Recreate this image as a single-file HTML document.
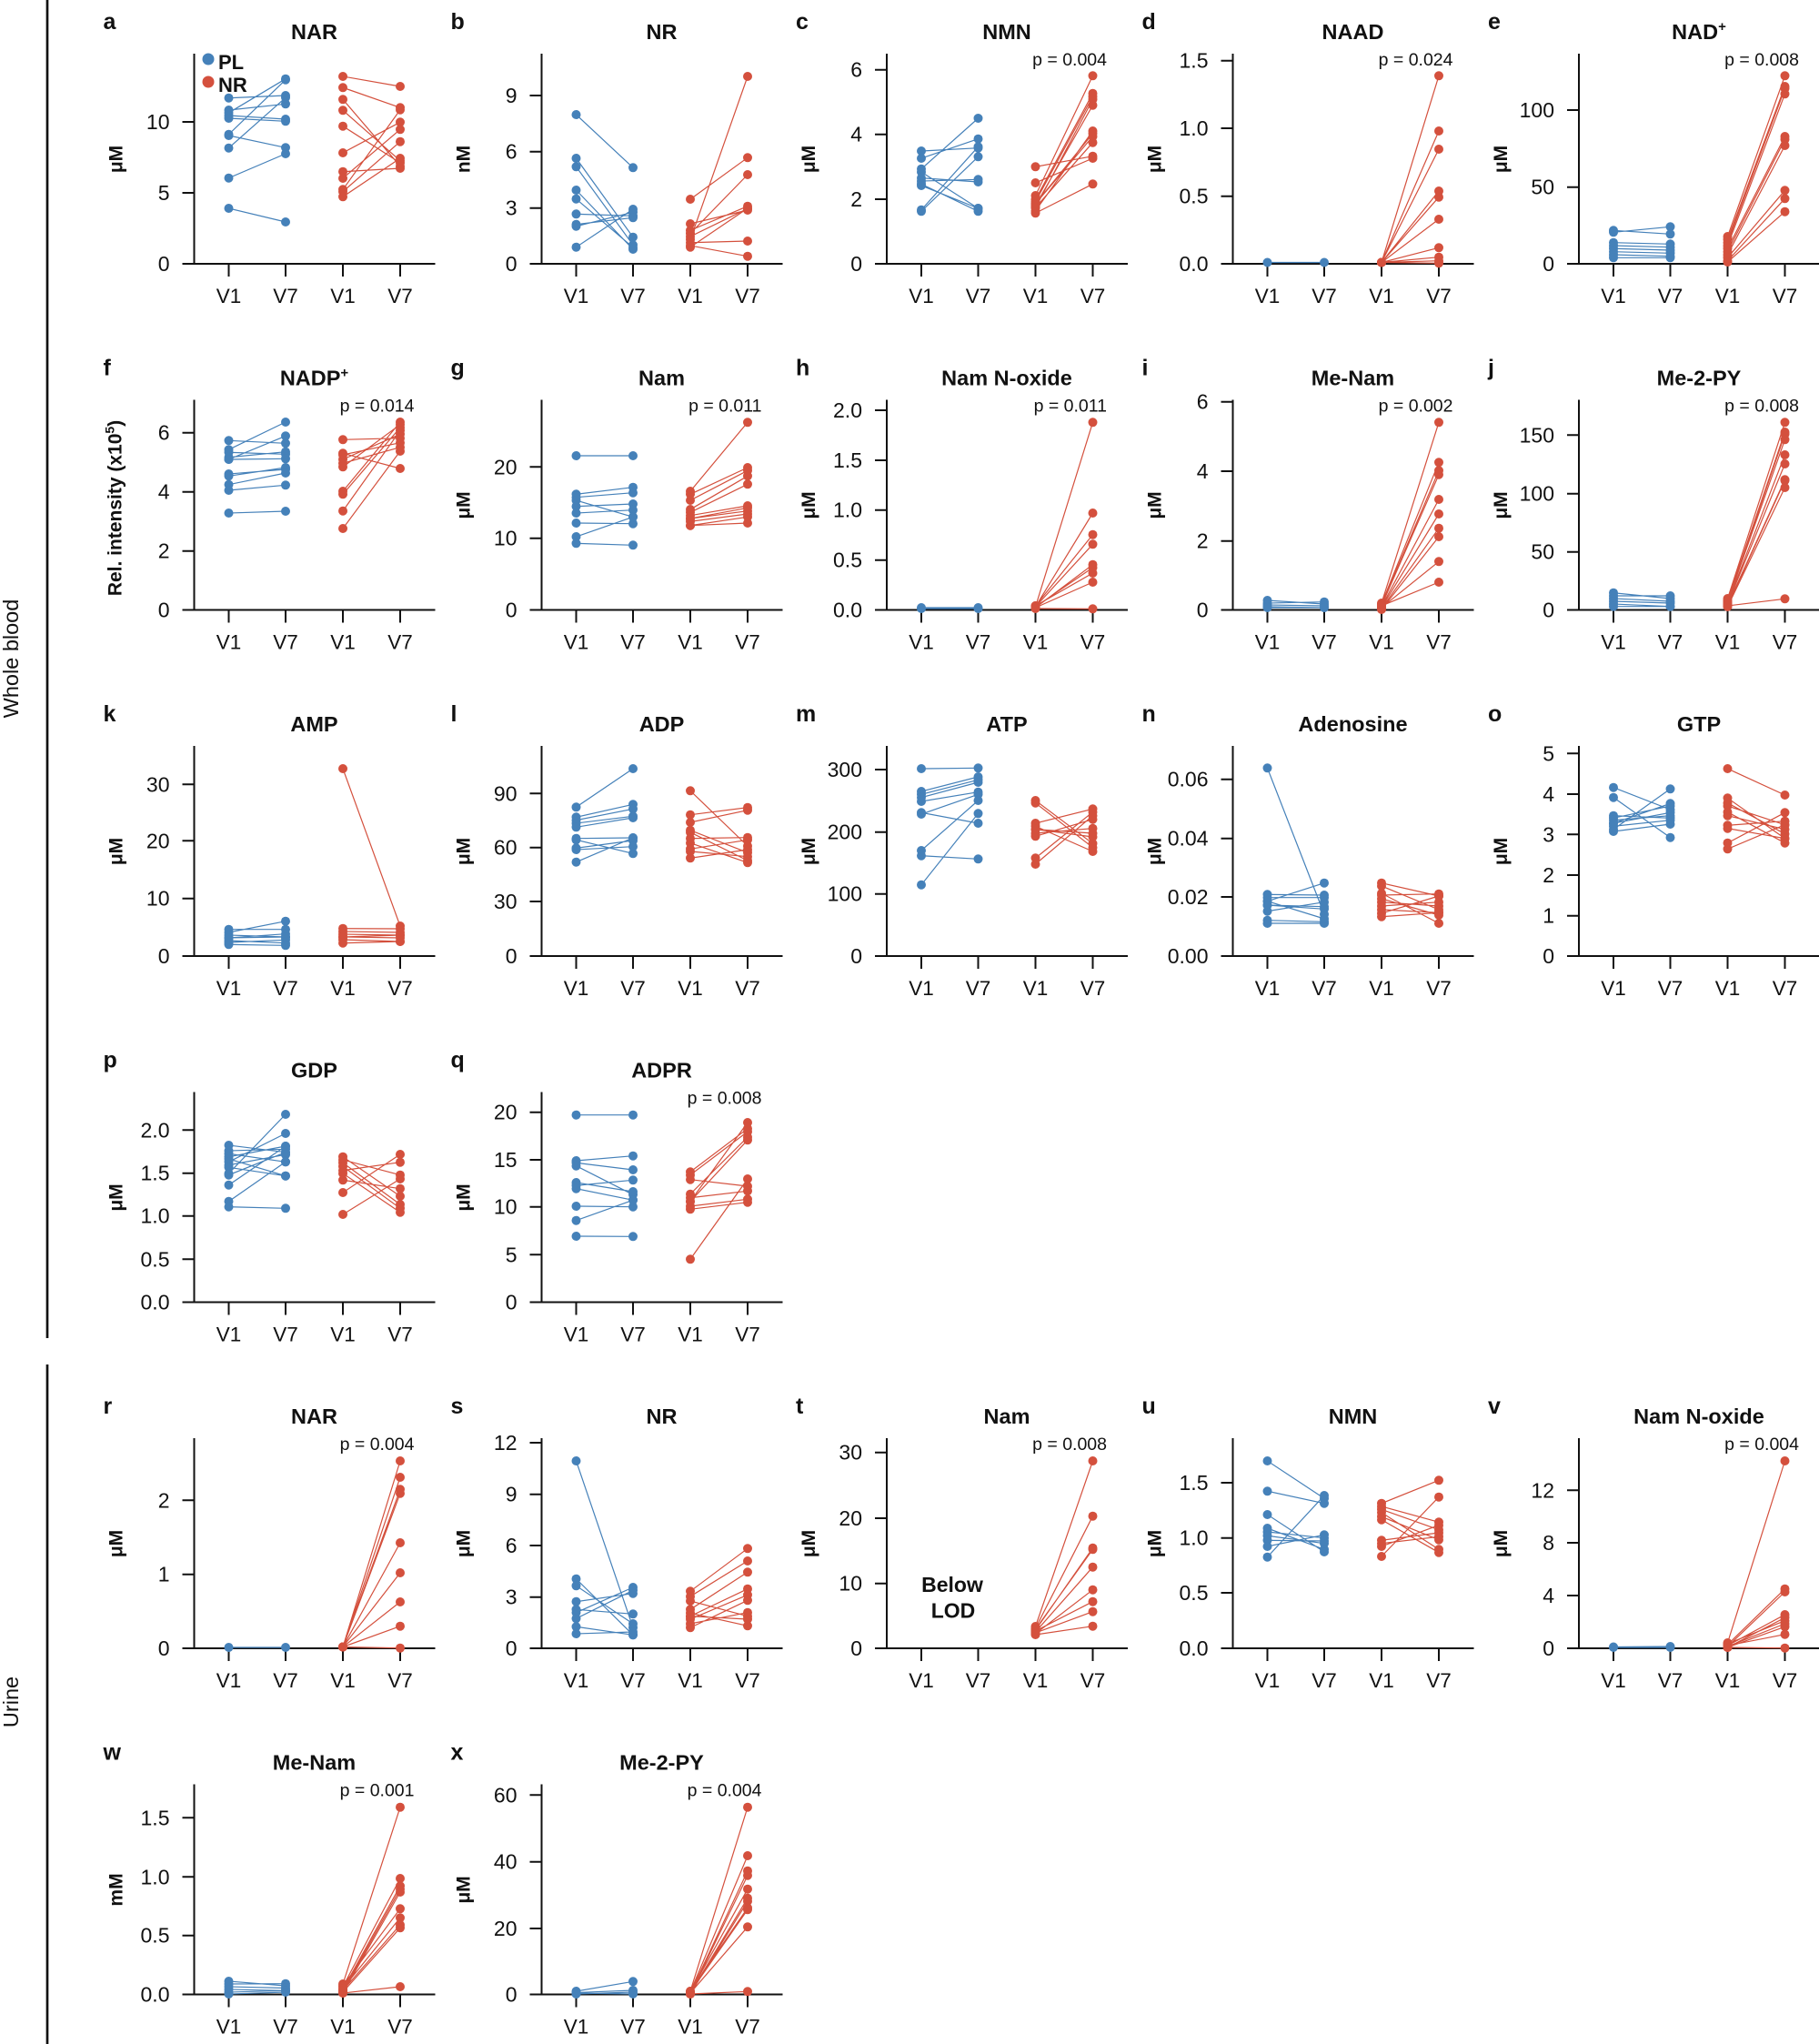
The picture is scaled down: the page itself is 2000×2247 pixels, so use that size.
<!DOCTYPE html>
<html><head><meta charset="utf-8"><style>
html,body{margin:0;padding:0;background:#fff}
svg{display:block}
svg text{font-family:"Liberation Sans",Arial,sans-serif;fill:#111}
.tl{font-size:23px;text-anchor:end}
.xl{font-size:22.5px;text-anchor:middle}
.ti{font-size:23.5px;font-weight:bold;text-anchor:middle}
.lt{font-size:25px;font-weight:bold}
.yl{font-size:21px;font-weight:bold;text-anchor:middle}
.pv{font-size:19.5px;text-anchor:end}
.sd{font-size:23.5px;text-anchor:middle}
.ax{fill:none;stroke:#111;stroke-width:2}
.b{fill:none;stroke:#4581B9;stroke-width:1.2;marker-start:url(#mb);marker-mid:url(#mb);marker-end:url(#mb)}
.r{fill:none;stroke:#D4503D;stroke-width:1.2;marker-start:url(#mr);marker-mid:url(#mr);marker-end:url(#mr)}
</style></head><body>
<svg width="2000" height="2247" viewBox="0 0 2000 2247" xmlns="http://www.w3.org/2000/svg">
<defs>
<marker id="mb" viewBox="0 0 10 10" refX="5" refY="5" markerWidth="10" markerHeight="10" markerUnits="userSpaceOnUse" overflow="visible"><circle cx="5" cy="5" r="5" fill="#4581B9"/></marker>
<marker id="mr" viewBox="0 0 10 10" refX="5" refY="5" markerWidth="10" markerHeight="10" markerUnits="userSpaceOnUse" overflow="visible"><circle cx="5" cy="5" r="5" fill="#D4503D"/></marker>
</defs>
<rect width="2000" height="2247" fill="#fff"/>

<!-- side separators -->
<path d="M52 0V1471M52 1500V2247" stroke="#111" stroke-width="2.7" fill="none"/>
<text class="sd" transform="translate(20 724) rotate(-90)">Whole blood</text>
<text class="sd" transform="translate(20 1871) rotate(-90)">Urine</text>

<!-- ===== a ===== -->
<g transform="translate(213.5 290)">
<path class="ax" d="M-13 0H265M0 0V-231M38 0v14M100.5 0v14M163.5 0v14M226.5 0v14M-13 -78H0M-13 -156H0"/>
<text class="tl" x="-27" y="8">0</text><text class="tl" x="-27" y="-70">5</text><text class="tl" x="-27" y="-148">10</text>
<text class="xl" x="38" y="43">V1</text><text class="xl" x="100.5" y="43">V7</text><text class="xl" x="163.5" y="43">V1</text><text class="xl" x="226.5" y="43">V7</text>
<text class="ti" x="132" y="-247">NAR</text>
<text class="lt" x="-100" y="-258">a</text>
<text class="yl" transform="translate(-79 -115) rotate(-90)">μM</text>
</g>
<circle cx="229" cy="65" r="6.5" fill="#4581B9"/><circle cx="229" cy="90" r="6.5" fill="#D4503D"/>
<text x="240" y="76" style="font-size:22px;font-weight:bold">PL</text>
<text x="240" y="101" style="font-size:22px;font-weight:bold">NR</text>
<path class="b" d="M251.5 107.7L314 105M251.5 121L314 114.3M251.5 124L314 86.7M251.5 127L314 131M251.5 130L314 133.3M251.5 147.7L314 87.7M251.5 149L314 162.3M251.5 162.7L314 107.3M251.5 195.7L314 169M251.5 229L314 244"/>
<path class="r" d="M377 84L440 95M377 96.3L440 118.3M377 109.3L440 182.7M377 121.3L440 176.7M377 138.7L440 179M377 168L440 134.3M377 188.7L440 185M377 196L440 142.3M377 208.3L440 120.7M377 210.7L440 155.7M377 216.3L440 174"/>

<!-- ===== b ===== -->
<g transform="translate(595.5 290)">
<path class="ax" d="M-13 0H265M0 0V-231M38 0v14M100.5 0v14M163.5 0v14M226.5 0v14M-13 -61.3H0M-13 -123.3H0M-13 -185H0"/>
<text class="tl" x="-27" y="8">0</text><text class="tl" x="-27" y="-53.3">3</text><text class="tl" x="-27" y="-115.3">6</text><text class="tl" x="-27" y="-177">9</text>
<text class="xl" x="38" y="43">V1</text><text class="xl" x="100.5" y="43">V7</text><text class="xl" x="163.5" y="43">V1</text><text class="xl" x="226.5" y="43">V7</text>
<text class="ti" x="132" y="-247">NR</text>
<text class="lt" x="-100" y="-258">b</text>
<text class="yl" transform="translate(-79 -115) rotate(-90)">nM</text>
</g>
<path class="b" d="M633.5 126L696 184.3M633.5 174L696 260.7M633.5 183.3L696 269.3M633.5 209L696 274M633.5 218.7L696 272M633.5 235.3L696 237.3M633.5 246.7L696 239.3M633.5 248.7L696 233.3M633.5 271.7L696 230"/>
<path class="r" d="M759 219L822 173.3M759 246L822 231M759 253.3L822 226.7M759 256.7L822 192M759 260L822 229.3M759 263.3L822 84M759 266.7L822 265M759 270L822 281.7M759 271.7L822 229"/>

<!-- ===== c ===== -->
<g transform="translate(975 290)">
<path class="ax" d="M-13 0H265M0 0V-231M38 0v14M100.5 0v14M163.5 0v14M226.5 0v14M-13 -71H0M-13 -142.3H0M-13 -213.3H0"/>
<text class="tl" x="-27" y="8">0</text><text class="tl" x="-27" y="-63">2</text><text class="tl" x="-27" y="-134.3">4</text><text class="tl" x="-27" y="-205.3">6</text>
<text class="xl" x="38" y="43">V1</text><text class="xl" x="100.5" y="43">V7</text><text class="xl" x="163.5" y="43">V1</text><text class="xl" x="226.5" y="43">V7</text>
<text class="ti" x="132" y="-247">NMN</text>
<text class="lt" x="-100" y="-258">c</text>
<text class="yl" transform="translate(-79 -115) rotate(-90)">μM</text>
<text class="pv" x="242" y="-218">p = 0.004</text>
</g>
<path class="b" d="M1013 166L1075.5 162.7M1013 174L1075.5 152.7M1013 185.7L1075.5 130M1013 189L1075.5 229M1013 195.7L1075.5 200M1013 199L1075.5 197.3M1013 202.3L1075.5 232.3M1013 204L1075.5 229M1013 230.7L1075.5 161.3M1013 232.3L1075.5 172.3"/>
<path class="r" d="M1138.5 183.3L1201.5 171.7M1138.5 201L1201.5 174M1138.5 215L1201.5 83.3M1138.5 219.3L1201.5 102.7M1138.5 221.7L1201.5 106M1138.5 224L1201.5 146.7M1138.5 226L1201.5 115.7M1138.5 228.3L1201.5 156.7M1138.5 231.7L1201.5 144M1138.5 234.3L1201.5 202.3M1138.5 228.3L1201.5 109.3M1138.5 224L1201.5 150"/>

<!-- ===== d ===== -->
<g transform="translate(1355.5 290)">
<path class="ax" d="M-13 0H265M0 0V-231M38 0v14M100.5 0v14M163.5 0v14M226.5 0v14M-13 -74.3H0M-13 -149H0M-13 -223.3H0"/>
<text class="tl" x="-27" y="8">0.0</text><text class="tl" x="-27" y="-66.3">0.5</text><text class="tl" x="-27" y="-141">1.0</text><text class="tl" x="-27" y="-215.3">1.5</text>
<text class="xl" x="38" y="43">V1</text><text class="xl" x="100.5" y="43">V7</text><text class="xl" x="163.5" y="43">V1</text><text class="xl" x="226.5" y="43">V7</text>
<text class="ti" x="132" y="-247">NAAD</text>
<text class="lt" x="-100" y="-258">d</text>
<text class="yl" transform="translate(-79 -115) rotate(-90)">μM</text>
<text class="pv" x="242" y="-218">p = 0.024</text>
</g>
<path class="b" d="M1393.5 288.5L1456 288.5"/>
<path class="r" d="M1519 288.5L1582 83.3M1519 288.5L1582 144M1519 288.5L1582 164M1519 288.5L1582 210M1519 288.5L1582 216.7M1519 288.5L1582 241M1519 288.5L1582 272.3M1519 288.5L1582 282.7M1519 288.5L1582 286.7M1519 288.5L1582 289.3"/>

<!-- ===== e ===== -->
<g transform="translate(1736 290)">
<path class="ax" d="M-13 0H265M0 0V-231M38 0v14M100.5 0v14M163.5 0v14M226.5 0v14M-13 -84.3H0M-13 -169H0"/>
<text class="tl" x="-27" y="8">0</text><text class="tl" x="-27" y="-76.3">50</text><text class="tl" x="-27" y="-161">100</text>
<text class="xl" x="38" y="43">V1</text><text class="xl" x="100.5" y="43">V7</text><text class="xl" x="163.5" y="43">V1</text><text class="xl" x="226.5" y="43">V7</text>
<text class="ti" x="132" y="-247">NAD<tspan font-size="15" dy="-9">+</tspan></text>
<text class="lt" x="-100" y="-258">e</text>
<text class="yl" transform="translate(-79 -115) rotate(-90)">μM</text>
<text class="pv" x="242" y="-218">p = 0.008</text>
</g>
<path class="b" d="M1774 253.3L1836.5 257.3M1774 255.3L1836.5 249.3M1774 266.7L1836.5 268.3M1774 270L1836.5 271.7M1774 273.3L1836.5 275M1774 276.7L1836.5 278.3M1774 280L1836.5 281.7M1774 283.3L1836.5 283.3"/>
<path class="r" d="M1899.5 260L1962.5 83.3M1899.5 263.3L1962.5 95M1899.5 266.7L1962.5 97.3M1899.5 270L1962.5 103.3M1899.5 273.3L1962.5 150M1899.5 276.7L1962.5 153.3M1899.5 280L1962.5 160M1899.5 283.3L1962.5 209.3M1899.5 286.7L1962.5 218.3M1899.5 288L1962.5 232.7"/>

<!-- ===== f ===== -->
<g transform="translate(213.5 670.5)">
<path class="ax" d="M-13 0H265M0 0V-231M38 0v14M100.5 0v14M163.5 0v14M226.5 0v14M-13 -64.8H0M-13 -129.8H0M-13 -194.8H0"/>
<text class="tl" x="-27" y="8">0</text><text class="tl" x="-27" y="-56.8">2</text><text class="tl" x="-27" y="-121.8">4</text><text class="tl" x="-27" y="-186.8">6</text>
<text class="xl" x="38" y="43">V1</text><text class="xl" x="100.5" y="43">V7</text><text class="xl" x="163.5" y="43">V1</text><text class="xl" x="226.5" y="43">V7</text>
<text class="ti" x="132" y="-247">NADP<tspan font-size="15" dy="-9">+</tspan></text>
<text class="lt" x="-100" y="-258">f</text>
<text class="yl" transform="translate(-80 -112) rotate(-90)">Rel. intensity (x10<tspan font-size="14" dy="-8">5</tspan><tspan dy="8">)</tspan></text>
<text class="pv" x="242" y="-218">p = 0.014</text>
</g>
<path class="b" d="M251.5 484.3L314 487.3M251.5 494.3L314 464M251.5 497.3L314 499.3M251.5 502.7L314 496.7M251.5 505L314 479.3M251.5 521L314 516M251.5 523.3L314 514M251.5 532.7L314 520M251.5 539L314 533.3M251.5 564L314 562M251.5 505L314 504.3"/>
<path class="r" d="M377 483.3L440 481.7M377 498.3L440 515M377 500L440 486.7M377 505L440 477.3M377 509.3L440 491.7M377 513.3L440 466.7M377 540L440 464M377 543.3L440 470M377 561.7L440 473.3M377 581L440 496"/>

<!-- ===== g ===== -->
<g transform="translate(595.5 670.5)">
<path class="ax" d="M-13 0H265M0 0V-231M38 0v14M100.5 0v14M163.5 0v14M226.5 0v14M-13 -78.8H0M-13 -157.2H0"/>
<text class="tl" x="-27" y="8">0</text><text class="tl" x="-27" y="-70.8">10</text><text class="tl" x="-27" y="-149.2">20</text>
<text class="xl" x="38" y="43">V1</text><text class="xl" x="100.5" y="43">V7</text><text class="xl" x="163.5" y="43">V1</text><text class="xl" x="226.5" y="43">V7</text>
<text class="ti" x="132" y="-247">Nam</text>
<text class="lt" x="-100" y="-258">g</text>
<text class="yl" transform="translate(-79 -115) rotate(-90)">μM</text>
<text class="pv" x="242" y="-218">p = 0.011</text>
</g>
<path class="b" d="M633.5 501L696 501M633.5 543.3L696 535.7M633.5 546.7L696 541.7M633.5 550L696 568.3M633.5 556.7L696 554M633.5 564L696 560.7M633.5 575L696 575.7M633.5 590L696 568.3M633.5 597.3L696 599.3"/>
<path class="r" d="M759 540L822 464.3M759 543.3L822 514M759 550L822 517.3M759 560L822 523.3M759 563.3L822 532.3M759 566.7L822 556M759 570L822 558.3M759 573.3L822 565M759 577.7L822 568.3M759 570L822 561.7M759 577.7L822 575"/>

<!-- ===== h ===== -->
<g transform="translate(975 670.5)">
<path class="ax" d="M-13 0H265M0 0V-231M38 0v14M100.5 0v14M163.5 0v14M226.5 0v14M-13 -54.8H0M-13 -109.8H0M-13 -164.5H0M-13 -219.5H0"/>
<text class="tl" x="-27" y="8">0.0</text><text class="tl" x="-27" y="-46.8">0.5</text><text class="tl" x="-27" y="-101.8">1.0</text><text class="tl" x="-27" y="-156.5">1.5</text><text class="tl" x="-27" y="-211.5">2.0</text>
<text class="xl" x="38" y="43">V1</text><text class="xl" x="100.5" y="43">V7</text><text class="xl" x="163.5" y="43">V1</text><text class="xl" x="226.5" y="43">V7</text>
<text class="ti" x="132" y="-247">Nam N-oxide</text>
<text class="lt" x="-100" y="-258">h</text>
<text class="yl" transform="translate(-79 -115) rotate(-90)">μM</text>
<text class="pv" x="242" y="-218">p = 0.011</text>
</g>
<path class="b" d="M1013 669L1075.5 669M1013 668L1075.5 668"/>
<path class="r" d="M1138.5 667L1201.5 464.3M1138.5 667L1201.5 564M1138.5 666L1201.5 587.7M1138.5 667L1201.5 598.3M1138.5 668L1201.5 620.7M1138.5 667L1201.5 624M1138.5 666L1201.5 630M1138.5 668L1201.5 640M1138.5 669L1201.5 669.3"/>

<!-- ===== i ===== -->
<g transform="translate(1355.5 670.5)">
<path class="ax" d="M-13 0H265M0 0V-231M38 0v14M100.5 0v14M163.5 0v14M226.5 0v14M-13 -75.8H0M-13 -152.5H0M-13 -228.8H0"/>
<text class="tl" x="-27" y="8">0</text><text class="tl" x="-27" y="-67.8">2</text><text class="tl" x="-27" y="-144.5">4</text><text class="tl" x="-27" y="-220.8">6</text>
<text class="xl" x="38" y="43">V1</text><text class="xl" x="100.5" y="43">V7</text><text class="xl" x="163.5" y="43">V1</text><text class="xl" x="226.5" y="43">V7</text>
<text class="ti" x="132" y="-247">Me-Nam</text>
<text class="lt" x="-100" y="-258">i</text>
<text class="yl" transform="translate(-79 -115) rotate(-90)">μM</text>
<text class="pv" x="242" y="-218">p = 0.002</text>
</g>
<path class="b" d="M1393.5 660L1456 664M1393.5 663L1456 661.7M1393.5 665L1456 666M1393.5 667L1456 668M1393.5 668L1456 668"/>
<path class="r" d="M1519 663L1582 464.3M1519 664L1582 508.3M1519 665L1582 517.3M1519 666L1582 521.7M1519 667L1582 549M1519 668L1582 565M1519 669L1582 580.7M1519 670L1582 590M1519 668L1582 617.3M1519 666L1582 640"/>

<!-- ===== j ===== -->
<g transform="translate(1736 670.5)">
<path class="ax" d="M-13 0H265M0 0V-231M38 0v14M100.5 0v14M163.5 0v14M226.5 0v14M-13 -63.8H0M-13 -127.8H0M-13 -192.2H0"/>
<text class="tl" x="-27" y="8">0</text><text class="tl" x="-27" y="-55.8">50</text><text class="tl" x="-27" y="-119.8">100</text><text class="tl" x="-27" y="-184.2">150</text>
<text class="xl" x="38" y="43">V1</text><text class="xl" x="100.5" y="43">V7</text><text class="xl" x="163.5" y="43">V1</text><text class="xl" x="226.5" y="43">V7</text>
<text class="ti" x="132" y="-247">Me-2-PY</text>
<text class="lt" x="-100" y="-258">j</text>
<text class="yl" transform="translate(-79 -115) rotate(-90)">μM</text>
<text class="pv" x="242" y="-218">p = 0.008</text>
</g>
<path class="b" d="M1774 651.7L1836.5 658M1774 655L1836.5 655M1774 658L1836.5 661M1774 661L1836.5 663M1774 664L1836.5 666.7M1774 666.7L1836.5 666.7"/>
<path class="r" d="M1899.5 658L1962.5 464.3M1899.5 660L1962.5 475M1899.5 661L1962.5 477.3M1899.5 662L1962.5 483.3M1899.5 663L1962.5 500M1899.5 664L1962.5 510M1899.5 665L1962.5 527.3M1899.5 666L1962.5 528.3M1899.5 667L1962.5 536M1899.5 666L1962.5 658.3"/>

<!-- ===== k ===== -->
<g transform="translate(213.5 1051)">
<path class="ax" d="M-13 0H265M0 0V-231M38 0v14M100.5 0v14M163.5 0v14M226.5 0v14M-13 -63.3H0M-13 -126.7H0M-13 -188.7H0"/>
<text class="tl" x="-27" y="8">0</text><text class="tl" x="-27" y="-55.3">10</text><text class="tl" x="-27" y="-118.7">20</text><text class="tl" x="-27" y="-180.7">30</text>
<text class="xl" x="38" y="43">V1</text><text class="xl" x="100.5" y="43">V7</text><text class="xl" x="163.5" y="43">V1</text><text class="xl" x="226.5" y="43">V7</text>
<text class="ti" x="132" y="-247">AMP</text>
<text class="lt" x="-100" y="-258">k</text>
<text class="yl" transform="translate(-79 -115) rotate(-90)">μM</text>
</g>
<path class="b" d="M251.5 1021.7L314 1021.7M251.5 1025L314 1012.7M251.5 1028L314 1030M251.5 1031L314 1026.7M251.5 1034L314 1036.7M251.5 1036L314 1033.3M251.5 1038.3L314 1039.3M251.5 1031L314 1030"/>
<path class="r" d="M377 845L440 1018M377 1020.7L440 1021M377 1024L440 1025M377 1027L440 1028M377 1030L440 1031M377 1033L440 1035M377 1036.7L440 1035M377 1030L440 1028"/>

<!-- ===== l ===== -->
<g transform="translate(595.5 1051)">
<path class="ax" d="M-13 0H265M0 0V-231M38 0v14M100.5 0v14M163.5 0v14M226.5 0v14M-13 -60H0M-13 -119.3H0M-13 -178.7H0"/>
<text class="tl" x="-27" y="8">0</text><text class="tl" x="-27" y="-52">30</text><text class="tl" x="-27" y="-111.3">60</text><text class="tl" x="-27" y="-170.7">90</text>
<text class="xl" x="38" y="43">V1</text><text class="xl" x="100.5" y="43">V7</text><text class="xl" x="163.5" y="43">V1</text><text class="xl" x="226.5" y="43">V7</text>
<text class="ti" x="132" y="-247">ADP</text>
<text class="lt" x="-100" y="-258">l</text>
<text class="yl" transform="translate(-79 -115) rotate(-90)">μM</text>
</g>
<path class="b" d="M633.5 887.3L696 845M633.5 898.3L696 884.3M633.5 901.7L696 889.3M633.5 905L696 897.3M633.5 909.3L696 899M633.5 921.7L696 921M633.5 923.3L696 938.3M633.5 932.3L696 924M633.5 934L696 930.7M633.5 947.7L696 921"/>
<path class="r" d="M759 869.3L822 930M759 895.7L822 887.7M759 904L822 890.7M759 912.7L822 937.3M759 915L822 946M759 921.7L822 920.7M759 926.7L822 948.3M759 933.3L822 923.3M759 936L822 941.7M759 943.3L822 934"/>

<!-- ===== m ===== -->
<g transform="translate(975 1051)">
<path class="ax" d="M-13 0H265M0 0V-231M38 0v14M100.5 0v14M163.5 0v14M226.5 0v14M-13 -68.3H0M-13 -136.3H0M-13 -205H0"/>
<text class="tl" x="-27" y="8">0</text><text class="tl" x="-27" y="-60.3">100</text><text class="tl" x="-27" y="-128.3">200</text><text class="tl" x="-27" y="-197">300</text>
<text class="xl" x="38" y="43">V1</text><text class="xl" x="100.5" y="43">V7</text><text class="xl" x="163.5" y="43">V1</text><text class="xl" x="226.5" y="43">V7</text>
<text class="ti" x="132" y="-247">ATP</text>
<text class="lt" x="-100" y="-258">m</text>
<text class="yl" transform="translate(-79 -115) rotate(-90)">μM</text>
</g>
<path class="b" d="M1013 845L1075.5 844.3M1013 870L1075.5 854M1013 873.3L1075.5 857.3M1013 876.7L1075.5 860M1013 881L1075.5 870.7M1013 893.3L1075.5 905M1013 895L1075.5 873.3M1013 935L1075.5 880M1013 940.7L1075.5 944.3M1013 972.7L1075.5 894.3"/>
<path class="r" d="M1138.5 880L1201.5 927.3M1138.5 882.7L1201.5 931.7M1138.5 905L1201.5 889.3M1138.5 908.3L1201.5 936M1138.5 911.7L1201.5 920M1138.5 916L1201.5 910.7M1138.5 919.3L1201.5 900.7M1138.5 943.3L1201.5 892.7M1138.5 950L1201.5 896.7M1138.5 911.7L1201.5 916"/>

<!-- ===== n ===== -->
<g transform="translate(1355.5 1051)">
<path class="ax" d="M-13 0H265M0 0V-231M38 0v14M100.5 0v14M163.5 0v14M226.5 0v14M-13 -65H0M-13 -129.3H0M-13 -194.3H0"/>
<text class="tl" x="-27" y="8">0.00</text><text class="tl" x="-27" y="-57">0.02</text><text class="tl" x="-27" y="-121.3">0.04</text><text class="tl" x="-27" y="-186.3">0.06</text>
<text class="xl" x="38" y="43">V1</text><text class="xl" x="100.5" y="43">V7</text><text class="xl" x="163.5" y="43">V1</text><text class="xl" x="226.5" y="43">V7</text>
<text class="ti" x="132" y="-247">Adenosine</text>
<text class="lt" x="-100" y="-258">n</text>
<text class="yl" transform="translate(-79 -115) rotate(-90)">μM</text>
</g>
<path class="b" d="M1393.5 844.3L1456 1005M1393.5 983.3L1456 984M1393.5 986.7L1456 986.7M1393.5 990.7L1456 970.7M1393.5 995L1456 999.3M1393.5 1001.7L1456 991.7M1393.5 1011.7L1456 1013.3M1393.5 1015L1456 1015M1393.5 990.7L1456 1010M1393.5 995L1456 996.7"/>
<path class="r" d="M1519 970.7L1582 985M1519 974L1582 1000M1519 982L1582 1015M1519 984L1582 982.7M1519 988L1582 1006M1519 991.7L1582 996M1519 996L1582 991.7M1519 1000L1582 1003.3M1519 1004L1582 985M1519 1007.7L1582 1003.3"/>

<!-- ===== o ===== -->
<g transform="translate(1736 1051)">
<path class="ax" d="M-13 0H265M0 0V-231M38 0v14M100.5 0v14M163.5 0v14M226.5 0v14M-13 -44.3H0M-13 -89H0M-13 -133.7H0M-13 -178H0M-13 -222.7H0"/>
<text class="tl" x="-27" y="8">0</text><text class="tl" x="-27" y="-36.3">1</text><text class="tl" x="-27" y="-81">2</text><text class="tl" x="-27" y="-125.7">3</text><text class="tl" x="-27" y="-170">4</text><text class="tl" x="-27" y="-214.7">5</text>
<text class="xl" x="38" y="43">V1</text><text class="xl" x="100.5" y="43">V7</text><text class="xl" x="163.5" y="43">V1</text><text class="xl" x="226.5" y="43">V7</text>
<text class="ti" x="132" y="-247">GTP</text>
<text class="lt" x="-100" y="-258">o</text>
<text class="yl" transform="translate(-79 -115) rotate(-90)">μM</text>
</g>
<path class="b" d="M1774 865.7L1836.5 890M1774 876.7L1836.5 920.7M1774 896.7L1836.5 899.3M1774 899.3L1836.5 886M1774 901.7L1836.5 896.7M1774 905L1836.5 893.3M1774 908.3L1836.5 901.7M1774 911.7L1836.5 867.3M1774 914L1836.5 906M1774 905L1836.5 883.3"/>
<path class="r" d="M1899.5 845L1962.5 874M1899.5 877.3L1962.5 921.7M1899.5 882.7L1962.5 916.7M1899.5 886L1962.5 906.7M1899.5 892.7L1962.5 926.7M1899.5 896.7L1962.5 911.7M1899.5 907.3L1962.5 902.7M1899.5 910.7L1962.5 921.7M1899.5 926.7L1962.5 893.3M1899.5 933.3L1962.5 906.7"/>

<!-- ===== p ===== -->
<g transform="translate(213.5 1431.5)">
<path class="ax" d="M-13 0H265M0 0V-231M38 0v14M100.5 0v14M163.5 0v14M226.5 0v14M-13 -47.2H0M-13 -94.8H0M-13 -141.8H0M-13 -189.2H0"/>
<text class="tl" x="-27" y="8">0.0</text><text class="tl" x="-27" y="-39.2">0.5</text><text class="tl" x="-27" y="-86.8">1.0</text><text class="tl" x="-27" y="-133.8">1.5</text><text class="tl" x="-27" y="-181.2">2.0</text>
<text class="xl" x="38" y="43">V1</text><text class="xl" x="100.5" y="43">V7</text><text class="xl" x="163.5" y="43">V1</text><text class="xl" x="226.5" y="43">V7</text>
<text class="ti" x="132" y="-247">GDP</text>
<text class="lt" x="-100" y="-258">p</text>
<text class="yl" transform="translate(-79 -115) rotate(-90)">μM</text>
</g>
<path class="b" d="M251.5 1259L314 1266.7M251.5 1265L314 1263.3M251.5 1268.3L314 1277.3M251.5 1271.7L314 1260M251.5 1274L314 1292.7M251.5 1277.3L314 1246M251.5 1280.7L314 1269.3M251.5 1283.3L314 1292.7M251.5 1290L314 1225M251.5 1291.7L314 1266.7M251.5 1302.7L314 1260M251.5 1320.7L314 1277.3M251.5 1326.7L314 1328.3"/>
<path class="r" d="M377 1271.7L440 1315M377 1275L440 1291.7M377 1278.3L440 1324M377 1282.3L440 1328.3M377 1286.7L440 1277.7M377 1290L440 1332.7M377 1297.3L440 1306.7M377 1311L440 1269M377 1335L440 1296"/>

<!-- ===== q ===== -->
<g transform="translate(595.5 1431.5)">
<path class="ax" d="M-13 0H265M0 0V-231M38 0v14M100.5 0v14M163.5 0v14M226.5 0v14M-13 -52.2H0M-13 -104.8H0M-13 -156.5H0M-13 -208.8H0"/>
<text class="tl" x="-27" y="8">0</text><text class="tl" x="-27" y="-44.2">5</text><text class="tl" x="-27" y="-96.8">10</text><text class="tl" x="-27" y="-148.5">15</text><text class="tl" x="-27" y="-200.8">20</text>
<text class="xl" x="38" y="43">V1</text><text class="xl" x="100.5" y="43">V7</text><text class="xl" x="163.5" y="43">V1</text><text class="xl" x="226.5" y="43">V7</text>
<text class="ti" x="132" y="-247">ADPR</text>
<text class="lt" x="-100" y="-258">q</text>
<text class="yl" transform="translate(-79 -115) rotate(-90)">μM</text>
<text class="pv" x="242" y="-218">p = 0.008</text>
</g>
<path class="b" d="M633.5 1225.7L696 1225.7M633.5 1276L696 1270.7M633.5 1278.3L696 1286M633.5 1281.7L696 1313.3M633.5 1300L696 1310M633.5 1303.3L696 1297.3M633.5 1306.7L696 1319.3M633.5 1326L696 1326.7M633.5 1341.7L696 1319.3M633.5 1359L696 1359.3"/>
<path class="r" d="M759 1288.3L822 1240.7M759 1291.7L822 1244M759 1296.7L822 1304M759 1312.7L822 1250M759 1316.7L822 1309.3M759 1320.7L822 1234M759 1326L822 1318.3M759 1329.3L822 1321.7M759 1384.3L822 1296M759 1320.7L822 1253.3"/>

<!-- ===== r ===== -->
<g transform="translate(213.5 1812)">
<path class="ax" d="M-13 0H265M0 0V-231M38 0v14M100.5 0v14M163.5 0v14M226.5 0v14M-13 -81.3H0M-13 -162.7H0"/>
<text class="tl" x="-27" y="8">0</text><text class="tl" x="-27" y="-73.3">1</text><text class="tl" x="-27" y="-154.7">2</text>
<text class="xl" x="38" y="43">V1</text><text class="xl" x="100.5" y="43">V7</text><text class="xl" x="163.5" y="43">V1</text><text class="xl" x="226.5" y="43">V7</text>
<text class="ti" x="132" y="-247">NAR</text>
<text class="lt" x="-100" y="-258">r</text>
<text class="yl" transform="translate(-79 -115) rotate(-90)">μM</text>
<text class="pv" x="242" y="-218">p = 0.004</text>
</g>
<path class="b" d="M251.5 1811L314 1811"/>
<path class="r" d="M377 1810.5L440 1606M377 1810.5L440 1624M377 1810.5L440 1637.3M377 1810.5L440 1641.7M377 1810.5L440 1696M377 1810.5L440 1729M377 1810.5L440 1761M377 1810.5L440 1787.7M377 1810.5L440 1811.7"/>

<!-- ===== s ===== -->
<g transform="translate(595.5 1812)">
<path class="ax" d="M-13 0H265M0 0V-231M38 0v14M100.5 0v14M163.5 0v14M226.5 0v14M-13 -56.3H0M-13 -113H0M-13 -169.3H0M-13 -226H0"/>
<text class="tl" x="-27" y="8">0</text><text class="tl" x="-27" y="-48.3">3</text><text class="tl" x="-27" y="-105">6</text><text class="tl" x="-27" y="-161.3">9</text><text class="tl" x="-27" y="-218">12</text>
<text class="xl" x="38" y="43">V1</text><text class="xl" x="100.5" y="43">V7</text><text class="xl" x="163.5" y="43">V1</text><text class="xl" x="226.5" y="43">V7</text>
<text class="ti" x="132" y="-247">NR</text>
<text class="lt" x="-100" y="-258">s</text>
<text class="yl" transform="translate(-79 -115) rotate(-90)">μM</text>
</g>
<path class="b" d="M633.5 1606L696 1789.3M633.5 1735.7L696 1797.3M633.5 1743.3L696 1785M633.5 1760.7L696 1751.7M633.5 1769.3L696 1774.3M633.5 1772.7L696 1745M633.5 1779.3L696 1748.3M633.5 1788.3L696 1797.3M633.5 1796L696 1794"/>
<path class="r" d="M759 1749.3L822 1702.3M759 1755L822 1716M759 1760L822 1776.7M759 1769.3L822 1728.3M759 1773.3L822 1787.3M759 1776.7L822 1746.7M759 1780L822 1753.3M759 1785L822 1772.7M759 1789.3L822 1759.3M759 1776.7L822 1780"/>

<!-- ===== t ===== -->
<g transform="translate(975 1812)">
<path class="ax" d="M-13 0H265M0 0V-231M38 0v14M100.5 0v14M163.5 0v14M226.5 0v14M-13 -71.3H0M-13 -143H0M-13 -215.3H0"/>
<text class="tl" x="-27" y="8">0</text><text class="tl" x="-27" y="-63.3">10</text><text class="tl" x="-27" y="-135">20</text><text class="tl" x="-27" y="-207.3">30</text>
<text class="xl" x="38" y="43">V1</text><text class="xl" x="100.5" y="43">V7</text><text class="xl" x="163.5" y="43">V1</text><text class="xl" x="226.5" y="43">V7</text>
<text class="ti" x="132" y="-247">Nam</text>
<text class="lt" x="-100" y="-258">t</text>
<text class="yl" transform="translate(-79 -115) rotate(-90)">μM</text>
<text class="pv" x="242" y="-218">p = 0.008</text>
<text x="72" y="-62" style="font-size:23px;font-weight:bold;text-anchor:middle">Below</text>
<text x="73" y="-33.5" style="font-size:23px;font-weight:bold;text-anchor:middle">LOD</text>
</g>
<path class="r" d="M1138.5 1788L1201.5 1606M1138.5 1790L1201.5 1666.7M1138.5 1792L1201.5 1701.7M1138.5 1791L1201.5 1703.3M1138.5 1794L1201.5 1722.7M1138.5 1796L1201.5 1747.7M1138.5 1793L1201.5 1760.7M1138.5 1795L1201.5 1771.7M1138.5 1797L1201.5 1787.7"/>

<!-- ===== u ===== -->
<g transform="translate(1355.5 1812)">
<path class="ax" d="M-13 0H265M0 0V-231M38 0v14M100.5 0v14M163.5 0v14M226.5 0v14M-13 -61H0M-13 -121.3H0M-13 -182H0"/>
<text class="tl" x="-27" y="8">0.0</text><text class="tl" x="-27" y="-53">0.5</text><text class="tl" x="-27" y="-113.3">1.0</text><text class="tl" x="-27" y="-174">1.5</text>
<text class="xl" x="38" y="43">V1</text><text class="xl" x="100.5" y="43">V7</text><text class="xl" x="163.5" y="43">V1</text><text class="xl" x="226.5" y="43">V7</text>
<text class="ti" x="132" y="-247">NMN</text>
<text class="lt" x="-100" y="-258">u</text>
<text class="yl" transform="translate(-79 -115) rotate(-90)">μM</text>
</g>
<path class="b" d="M1393.5 1606L1456 1647.3M1393.5 1639.3L1456 1652.7M1393.5 1665L1456 1706M1393.5 1680L1456 1703.3M1393.5 1684L1456 1690.7M1393.5 1688.3L1456 1696.7M1393.5 1693.3L1456 1694M1393.5 1700L1456 1687.3M1393.5 1711.7L1456 1644"/>
<path class="r" d="M1519 1652.7L1582 1627.3M1519 1656L1582 1673.3M1519 1659.3L1582 1681.7M1519 1662.7L1582 1703.3M1519 1667.3L1582 1692.7M1519 1670.7L1582 1706.7M1519 1693.3L1582 1685M1519 1696.7L1582 1689.3M1519 1700L1582 1676.7M1519 1711L1582 1645.7"/>

<!-- ===== v ===== -->
<g transform="translate(1736 1812)">
<path class="ax" d="M-13 0H265M0 0V-231M38 0v14M100.5 0v14M163.5 0v14M226.5 0v14M-13 -58H0M-13 -116H0M-13 -173.7H0"/>
<text class="tl" x="-27" y="8">0</text><text class="tl" x="-27" y="-50">4</text><text class="tl" x="-27" y="-108">8</text><text class="tl" x="-27" y="-165.7">12</text>
<text class="xl" x="38" y="43">V1</text><text class="xl" x="100.5" y="43">V7</text><text class="xl" x="163.5" y="43">V1</text><text class="xl" x="226.5" y="43">V7</text>
<text class="ti" x="132" y="-247">Nam N-oxide</text>
<text class="lt" x="-100" y="-258">v</text>
<text class="yl" transform="translate(-79 -115) rotate(-90)">μM</text>
<text class="pv" x="242" y="-218">p = 0.004</text>
</g>
<path class="b" d="M1774 1811L1836.5 1811M1774 1810.5L1836.5 1810"/>
<path class="r" d="M1899.5 1806L1962.5 1606M1899.5 1808L1962.5 1746.7M1899.5 1810L1962.5 1750M1899.5 1809L1962.5 1775M1899.5 1811L1962.5 1778.3M1899.5 1807L1962.5 1781.7M1899.5 1810L1962.5 1785M1899.5 1811L1962.5 1788.3M1899.5 1809L1962.5 1796.7M1899.5 1811L1962.5 1811.7"/>

<!-- ===== w ===== -->
<g transform="translate(213.5 2192.5)">
<path class="ax" d="M-13 0H265M0 0V-231M38 0v14M100.5 0v14M163.5 0v14M226.5 0v14M-13 -64.8H0M-13 -129.2H0M-13 -194.2H0"/>
<text class="tl" x="-27" y="8">0.0</text><text class="tl" x="-27" y="-56.8">0.5</text><text class="tl" x="-27" y="-121.2">1.0</text><text class="tl" x="-27" y="-186.2">1.5</text>
<text class="xl" x="38" y="43">V1</text><text class="xl" x="100.5" y="43">V7</text><text class="xl" x="163.5" y="43">V1</text><text class="xl" x="226.5" y="43">V7</text>
<text class="ti" x="132" y="-247">Me-Nam</text>
<text class="lt" x="-100" y="-258">w</text>
<text class="yl" transform="translate(-79 -115) rotate(-90)">mM</text>
<text class="pv" x="242" y="-218">p = 0.001</text>
</g>
<path class="b" d="M251.5 2178L314 2183M251.5 2181L314 2180.7M251.5 2184L314 2185.5M251.5 2187L314 2188.3M251.5 2190L314 2188.3M251.5 2192L314 2190"/>
<path class="r" d="M377 2181L440 1986.7M377 2184L440 2065M377 2187L440 2073.3M377 2189L440 2076.7M377 2191L440 2080M377 2183L440 2098.3M377 2186L440 2108.3M377 2188L440 2116M377 2190L440 2119.3M377 2191L440 2184"/>

<!-- ===== x ===== -->
<g transform="translate(595.5 2192.5)">
<path class="ax" d="M-13 0H265M0 0V-231M38 0v14M100.5 0v14M163.5 0v14M226.5 0v14M-13 -72.5H0M-13 -145.8H0M-13 -219.2H0"/>
<text class="tl" x="-27" y="8">0</text><text class="tl" x="-27" y="-64.5">20</text><text class="tl" x="-27" y="-137.8">40</text><text class="tl" x="-27" y="-211.2">60</text>
<text class="xl" x="38" y="43">V1</text><text class="xl" x="100.5" y="43">V7</text><text class="xl" x="163.5" y="43">V1</text><text class="xl" x="226.5" y="43">V7</text>
<text class="ti" x="132" y="-247">Me-2-PY</text>
<text class="lt" x="-100" y="-258">x</text>
<text class="yl" transform="translate(-79 -115) rotate(-90)">μM</text>
<text class="pv" x="242" y="-218">p = 0.004</text>
</g>
<path class="b" d="M633.5 2189L696 2178.3M633.5 2190.5L696 2188M633.5 2192L696 2190M633.5 2191L696 2192"/>
<path class="r" d="M759 2189L822 1986.7M759 2190L822 2040M759 2191L822 2056.7M759 2192L822 2061.7M759 2190L822 2076.7M759 2191L822 2086.7M759 2192L822 2090M759 2189L822 2097.3M759 2190L822 2099.3M759 2191L822 2118.3M759 2192L822 2189.3"/>

</svg>
</body></html>
